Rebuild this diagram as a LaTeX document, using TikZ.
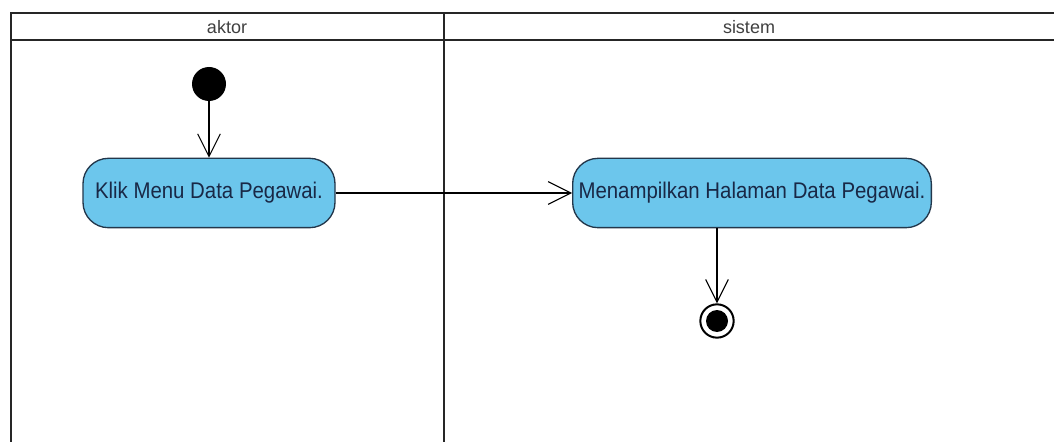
\documentclass[tikz,border=0pt]{standalone}
\usepackage{fontspec}
\setmainfont{Liberation Sans}
\newfontfamily\actfont[FakeStretch=0.9]{Liberation Sans}
\usetikzlibrary{arrows.meta}
\definecolor{actfill}{RGB}{108,198,236}
\definecolor{actborder}{RGB}{35,55,75}
\definecolor{acttext}{RGB}{25,40,70}
\tikzset{
  lane/.style={line width=2.2pt, draw=black!85},
  action/.style={draw=actborder, fill=actfill, rounded corners=19pt, line width=1pt, inner sep=0pt, text=acttext, font=\actfont\fontsize{17}{19}\selectfont},
  flow/.style={draw=black, line width=0.8pt, -{Straight Barb[length=17pt,width=17pt,line width=0.8pt]}},
  header/.style={font=\fontsize{13.5}{15}\selectfont, text=black!75}
}
\begin{document}
\begin{tikzpicture}[x=0.75pt,y=-0.75pt]
\useasboundingbox (0,0) rectangle (1054,442);
\fill[white] (0,0) rectangle (1054,442);
% swimlanes
\draw[lane] (1054,13) -- (11,13) -- (11,442);
\draw[lane] (11,40) -- (1054,40);
\draw[lane] (444,13) -- (444,442);
\node[header] (h1) at (227,27) {aktor};
\node[header] (h2) at (749,27) {sistem};
% nodes
\node[circle, fill=black, minimum size=25.5pt, inner sep=0pt] (start) at (209,84) {};
\node[action, minimum width=189pt, minimum height=52pt] (a1) at (209,193) {Klik Menu Data Pegawai.};
\node[action, minimum width=269pt, minimum height=52pt] (a2) at (752,193) {Menampilkan Halaman Data Pegawai.};
\node[circle, draw=black, line width=1.5pt, fill=white, minimum size=25pt, inner sep=0pt] (end) at (717,321) {};
\node[circle, fill=black, minimum size=16.5pt, inner sep=0pt] (endin) at (end.center) {};
% flows
\draw[flow] (start) -- (a1);
\draw[flow] (a1) -- (a2);
\draw[flow] (a2.south -| end) -- (end);
\end{tikzpicture}
\end{document}
